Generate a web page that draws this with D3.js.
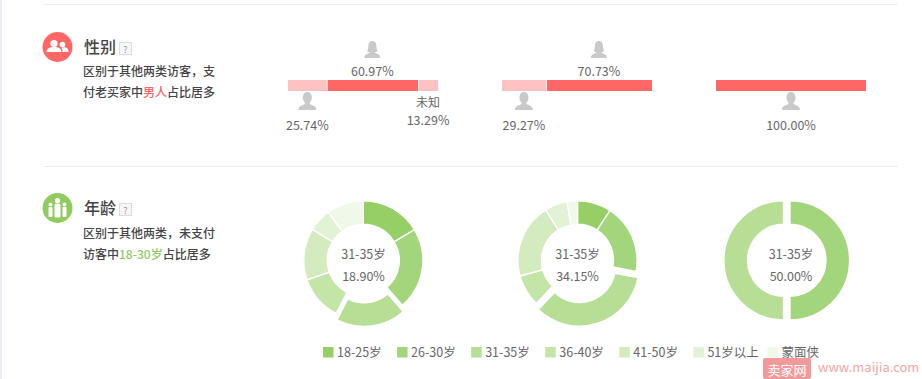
<!DOCTYPE html>
<html><head><meta charset="utf-8">
<style>html,body{margin:0;padding:0;background:#fff;overflow:hidden}svg{display:block}
text{font-family:"Noto Sans CJK SC","Liberation Sans",sans-serif}</style>
<script src="https://cdn.jsdelivr.net/npm/d3@7/dist/d3.min.js"></script>
</head><body><svg id="c" width="922" height="379"></svg>
<script>
const genderShares = [[25.74, 60.97, 13.29], [29.27, 70.73, 0], [0, 100, 0]];
const genderKinds = ["male", "female", "unknown"];
const ageGroups = ["18-25岁","26-30岁","31-35岁","36-40岁","41-50岁","51岁以上","蒙面侠"];
const ageColors = ["#95cf65","#a3d67c","#b6de94","#c3e5a8","#d3ebbf","#e2f2d5","#f0f8e9"];
const ageValuesA = [16.4, 22.2, 18.9, 12.2, 14.0, 6.3, 10.0];
const ageValuesB = [9.2, 18.8, 34.15, 8.6, 20.3, 6.1, 2.85];
const ageValuesC = [0, 50, 50, 0, 0, 0, 0];
const highlightIndex = 2;

const svg = d3.select("#c");
svg.append("rect").attr("x",0).attr("y",0).attr("width",2).attr("height",379).attr("fill","#e9eef5");
svg.selectAll("line.div").data([4.5,166.5]).join("line").attr("x1",43).attr("x2",898)
  .attr("y1",d=>d).attr("y2",d=>d).attr("stroke","#eeeeee");

// section headers
const headers = [
 {y:47,color:"#ff6666",title:"性别",icon:"people",l1:[["区别于其他两类访客，支",0]],l2:[["付老买家中",0],["男人",1],["占比居多",0]],ly:[72,93]},
 {y:208,color:"#8fcb5e",title:"年龄",icon:"family",l1:[["区别于其他两类，未支付",0]],l2:[["访客中",0],["18-30岁",1],["占比居多",0]],ly:[234,255]}
];
headers.forEach(h=>{
  svg.append("circle").attr("cx",57.5).attr("cy",h.y).attr("r",15).attr("fill",h.color);
  const g=svg.append("g").attr("transform",`translate(57.5,${h.y})`).attr("fill","#fff");
  if(h.icon==="people"){
    g.append("circle").attr("cx",-3.5).attr("cy",-3.5).attr("r",3.6);
    g.append("path").attr("d","M-11,5C-11,1-7,0-3.5,0S4,1,4,5Z");
    g.append("circle").attr("cx",5).attr("cy",-2.5).attr("r",2.8);
    g.append("path").attr("d","M5,5C5,3 4.5,1.5 3.5,0.8C5,0 9,0 10,1.5C11,3 11,4 11,5Z");
  } else {
    g.append("circle").attr("cx",0).attr("cy",-7.5).attr("r",2.6);
    g.append("rect").attr("x",-3).attr("y",-4.5).attr("width",6).attr("height",14).attr("rx",1.5);
    [-7,7].forEach(x=>{
      g.append("circle").attr("cx",x).attr("cy",-3.5).attr("r",2);
      g.append("rect").attr("x",x-2).attr("y",-1).attr("width",4).attr("height",10).attr("rx",1);
    });
  }
  svg.append("text").attr("x",84).attr("y",h.y+6).attr("font-size",16).attr("font-weight",500).attr("fill","#444").text(h.title);
  svg.append("rect").attr("x",119.5).attr("y",h.y-4.5).attr("width",12).attr("height",12).attr("fill","#f7f7f7").attr("stroke","#dcdcdc");
  svg.append("text").attr("x",125.5).attr("y",h.y+5.5).attr("text-anchor","middle").attr("font-size",9).attr("fill","#999").text("?");
  [h.l1,h.l2].forEach((runs,i)=>{
    const t=svg.append("text").attr("x",83).attr("y",h.ly[i]+4).attr("font-size",12).attr("font-weight",500).attr("fill","#444");
    t.selectAll("tspan").data(runs).join("tspan").attr("fill",d=>d[1]?h.color:null).text(d=>d[0]);
  });
});

// gender bars
const barLefts = [288, 502, 716];
const barScale = d3.scaleLinear().domain([0,100]).range([0,150]);
const maleIcon = "M0,-10C3,-10 4.5,-7.5 4.5,-4.5C4.5,-2 3.5,-0.5 2.5,0.5L2.5,2C5,3.5 9,4 9,8L-9,8C-9,4 -5,3.5 -2.5,2L-2.5,0.5C-3.5,-0.5 -4.5,-2 -4.5,-4.5C-4.5,-7.5 -3,-10 0,-10Z";
const femaleIcon = "M0,-9C3,-9 4,-6.5 4,-4C4,-1.5 5,0 5,1.5L2,2.5C4,3.5 8,4 8,8L-8,8C-8,4 -4,3.5 -2,2.5L-5,1.5C-5,0 -4,-1.5 -4,-4C-4,-6.5 -3,-9 0,-9Z";
const dark="#ff6666", light="#ffc2c2", labelSize=12.5;
genderShares.forEach((vals,bi)=>{
  let acc=0;
  const segs = vals.map((v,i)=>{const s={v,kind:genderKinds[i],start:acc};acc+=v;return s;}).filter(s=>s.v>0);
  const g = svg.append("g").attr("transform",`translate(${barLefts[bi]},0)`);
  g.selectAll("rect").data(segs).join("rect")
    .attr("x",d=>barScale(d.start)+(d.start>0?1:0)).attr("y",80).attr("height",11)
    .attr("width",d=>barScale(d.v)-(d.start>0?1:0))
    .attr("fill",d=>d.kind==="female"?dark:light);
  segs.forEach(d=>{
    const cx=barScale(d.start+d.v/2);
    const isFull=bi===2, top=d.kind==="female"&&!isFull, txt=d.v.toFixed(2)+"%";
    if(d.kind==="unknown"){
      g.append("text").attr("x",cx).attr("y",107).attr("text-anchor","middle").attr("font-size",12).attr("fill","#666").text("未知");
      g.append("text").attr("x",cx).attr("y",124.5).attr("text-anchor","middle").attr("font-size",labelSize).attr("fill","#666").text(txt);
      return;
    }
    g.append("path").attr("d",top?femaleIcon:maleIcon).attr("fill","#c9c9c9")
      .attr("transform",`translate(${cx},${top?50:102})`);
    g.append("text").attr("x",cx).attr("y",top?76:129.5).attr("text-anchor","middle").attr("font-size",labelSize).attr("fill","#666").text(txt);
  });
});

// donuts
const donuts=[{cx:363.3,vals:ageValuesA,label:"18.90%",tx:363.5},{cx:577.5,vals:ageValuesB,label:"34.15%",tx:577.5},{cx:790,vals:ageValuesC,label:"50.00%",tx:791}];
const cy=260.3;
const pie=d3.pie().sort(null).value(d=>d);
const arc=d3.arc().innerRadius(36).outerRadius(59.6);
const explode=6.5;
donuts.forEach(dn=>{
  const g=svg.append("g").attr("transform",`translate(${dn.cx},${cy})`);
  g.selectAll("path").data(pie(dn.vals).filter(d=>d.value>0)).join("path")
    .attr("d",arc).attr("fill",d=>ageColors[d.index])
    .attr("stroke","#fff").attr("stroke-width",1.4)
    .attr("transform",d=>{
      if(d.index!==highlightIndex)return null;
      const m=(d.startAngle+d.endAngle)/2;
      return `translate(${explode*Math.sin(m)},${-explode*Math.cos(m)})`;
    });
  svg.append("text").attr("x",dn.tx).attr("y",258.5).attr("text-anchor","middle").attr("font-size",labelSize).attr("fill","#666").text(ageGroups[highlightIndex]);
  svg.append("text").attr("x",dn.tx).attr("y",280.5).attr("text-anchor","middle").attr("font-size",labelSize).attr("fill","#666").text(dn.label);
});

// legend
const legendX=d3.scalePoint().domain(ageGroups).range([323,767.5]);
const lg=svg.selectAll("g.lg").data(ageGroups).join("g").attr("transform",d=>`translate(${legendX(d)},347)`);
lg.append("rect").attr("width",10.5).attr("height",10.5).attr("fill",(d,i)=>ageColors[i]);
lg.append("text").attr("x",14).attr("y",9.5).attr("font-size",labelSize).attr("fill","#666").text(d=>d);

// watermark
svg.append("rect").attr("x",763).attr("y",358).attr("width",48).attr("height",21).attr("rx",2).attr("fill","#f29a9a");
svg.append("text").attr("x",787).attr("y",374.5).attr("text-anchor","middle").attr("font-size",13).attr("fill","#fff").text("卖家网");
svg.append("text").attr("x",818).attr("y",372).attr("font-size",13).attr("fill","#f4a5a5").text("www.maijia.com");
</script></body></html>
